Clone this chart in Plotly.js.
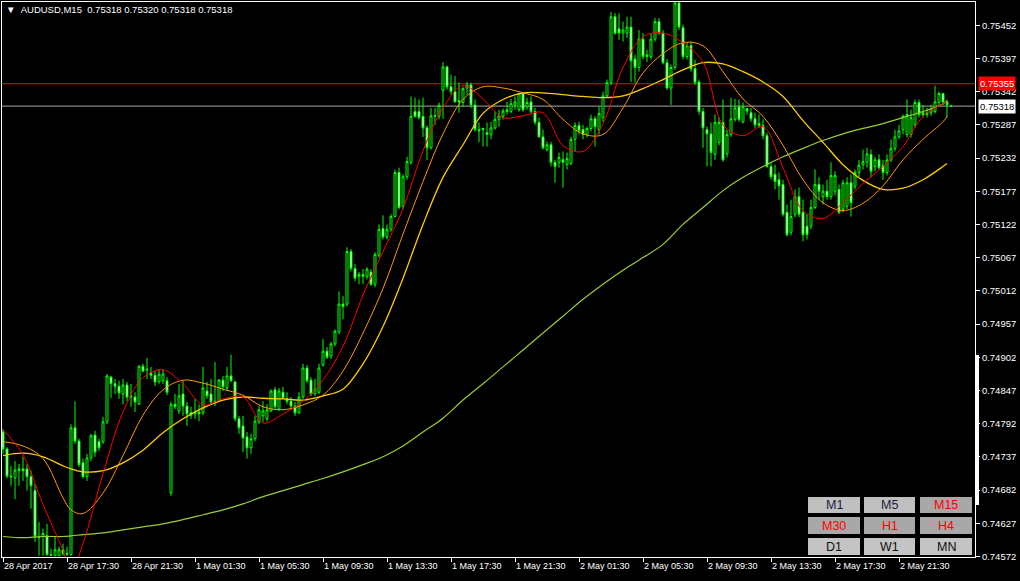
<!DOCTYPE html>
<html><head><meta charset="utf-8">
<script src="https://cdn.plot.ly/plotly-3.0.1.min.js"></script>
<style>html,body{margin:0;padding:0;background:#000;}#chart{width:1020px;height:581px;}</style>
</head><body><div id="chart"></div>
<script>
// ---- data (AUDUSD, M15, one bar per index; bar 0 = 28 Apr 2017 13:30) ----
const symbolName = 'AUDUSD,M15';
const open = [
0.74778,0.74750,0.74705,0.74702,0.74714,0.74717,0.74717,0.74704,0.74681,0.74605,
0.74605,0.74606,0.74575,0.74573,0.74573,0.74583,0.74577,0.74575,0.74785,0.74763,
0.74727,0.74704,0.74735,0.74773,0.74762,0.74762,0.74795,0.74869,0.74858,0.74854,
0.74841,0.74856,0.74836,0.74836,0.74824,0.74887,0.74881,0.74876,0.74872,0.74861,
0.74863,0.74863,0.74677,0.74824,0.74813,0.74841,0.74821,0.74810,0.74808,0.74811,
0.74810,0.74846,0.74841,0.74829,0.74829,0.74864,0.74851,0.74871,0.74861,0.74800,
0.74788,0.74770,0.74752,0.74767,0.74795,0.74805,0.74800,0.74813,0.74848,0.74816,
0.74844,0.74833,0.74829,0.74821,0.74810,0.74836,0.74884,0.74864,0.74841,0.74844,
0.74889,0.74912,0.74904,0.74924,0.74944,0.74990,0.74990,0.75077,0.75049,0.75036,
0.75039,0.75036,0.75043,0.75023,0.75071,0.75115,0.75101,0.75114,0.75135,0.75208,
0.75152,0.75201,0.75225,0.75309,0.75309,0.75301,0.75282,0.75249,0.75301,0.75301,
0.75344,0.75383,0.75350,0.75342,0.75327,0.75324,0.75348,0.75353,0.75320,0.75279,
0.75281,0.75274,0.75271,0.75282,0.75296,0.75301,0.75309,0.75309,0.75320,0.75312,
0.75339,0.75317,0.75325,0.75309,0.75291,0.75267,0.75246,0.75254,0.75225,0.75225,
0.75229,0.75221,0.75223,0.75263,0.75286,0.75279,0.75271,0.75281,0.75297,0.75279,
0.75299,0.75335,0.75357,0.75466,0.75446,0.75439,0.75439,0.75449,0.75396,0.75382,
0.75429,0.75400,0.75400,0.75429,0.75458,0.75439,0.75390,0.75348,0.75382,0.75489,
0.75448,0.75400,0.75418,0.75380,0.75358,0.75309,0.75279,0.75272,0.75238,0.75258,
0.75291,0.75239,0.75271,0.75296,0.75317,0.75292,0.75314,0.75307,0.75297,0.75289,
0.75286,0.75269,0.75218,0.75205,0.75196,0.75188,0.75142,0.75109,0.75139,0.75168,
0.75142,0.75119,0.75119,0.75150,0.75188,0.75168,0.75177,0.75168,0.75177,0.75180,
0.75147,0.75152,0.75191,0.75185,0.75208,0.75221,0.75225,0.75238,0.75218,0.75229,
0.75220,0.75208,0.75229,0.75248,0.75267,0.75279,0.75271,0.75271,0.75287,0.75324,
0.75307,0.75307,0.75307,0.75309,0.75324,0.75339,0.75325,0.75318];
const high = [
0.74783,0.74753,0.74722,0.74730,0.74725,0.74737,0.74725,0.74714,0.74692,0.74629,
0.74618,0.74626,0.74585,0.74605,0.74588,0.74593,0.74588,0.74791,0.74829,0.74767,
0.74734,0.74742,0.74775,0.74780,0.74767,0.74803,0.74874,0.74871,0.74866,0.74863,
0.74866,0.74861,0.74858,0.74844,0.74889,0.74891,0.74901,0.74886,0.74879,0.74882,
0.74882,0.74869,0.74828,0.74841,0.74858,0.74863,0.74828,0.74820,0.74833,0.74824,
0.74886,0.74861,0.74866,0.74894,0.74866,0.74871,0.74886,0.74906,0.74863,0.74805,
0.74805,0.74778,0.74775,0.74805,0.74821,0.74829,0.74824,0.74849,0.74853,0.74851,
0.74853,0.74844,0.74836,0.74828,0.74844,0.74891,0.74889,0.74869,0.74866,0.74891,
0.74932,0.74919,0.74927,0.74948,0.75011,0.75003,0.75084,0.75081,0.75056,0.75043,
0.75048,0.75051,0.75048,0.75076,0.75122,0.75137,0.75122,0.75139,0.75213,0.75216,
0.75205,0.75234,0.75334,0.75332,0.75329,0.75332,0.75286,0.75315,0.75315,0.75324,
0.75391,0.75385,0.75370,0.75368,0.75357,0.75350,0.75358,0.75357,0.75329,0.75291,
0.75282,0.75291,0.75292,0.75309,0.75312,0.75314,0.75325,0.75330,0.75334,0.75340,
0.75340,0.75332,0.75334,0.75315,0.75299,0.75279,0.75259,0.75259,0.75229,0.75241,
0.75243,0.75241,0.75267,0.75291,0.75292,0.75287,0.75284,0.75304,0.75301,0.75317,
0.75342,0.75362,0.75474,0.75472,0.75472,0.75458,0.75466,0.75466,0.75403,0.75444,
0.75439,0.75411,0.75439,0.75464,0.75464,0.75444,0.75396,0.75387,0.75491,0.75491,
0.75453,0.75423,0.75425,0.75395,0.75362,0.75315,0.75284,0.75291,0.75304,0.75299,
0.75329,0.75279,0.75332,0.75330,0.75329,0.75324,0.75315,0.75315,0.75307,0.75304,
0.75296,0.75274,0.75225,0.75221,0.75208,0.75196,0.75155,0.75163,0.75180,0.75183,
0.75163,0.75139,0.75163,0.75213,0.75200,0.75188,0.75196,0.75225,0.75210,0.75188,
0.75196,0.75200,0.75205,0.75213,0.75229,0.75246,0.75249,0.75246,0.75234,0.75238,
0.75229,0.75238,0.75263,0.75279,0.75287,0.75304,0.75329,0.75312,0.75329,0.75329,
0.75320,0.75315,0.75320,0.75352,0.75342,0.75340,0.75329,0.75320];
const low = [
0.74742,0.74701,0.74689,0.74667,0.74689,0.74697,0.74681,0.74651,0.74596,0.74573,
0.74573,0.74573,0.74573,0.74573,0.74573,0.74573,0.74573,0.74573,0.74758,0.74720,
0.74701,0.74697,0.74730,0.74737,0.74747,0.74758,0.74791,0.74834,0.74841,0.74833,
0.74824,0.74829,0.74820,0.74811,0.74823,0.74877,0.74866,0.74866,0.74854,0.74858,
0.74858,0.74839,0.74672,0.74816,0.74808,0.74805,0.74788,0.74800,0.74800,0.74796,
0.74806,0.74833,0.74824,0.74821,0.74828,0.74846,0.74846,0.74861,0.74796,0.74775,
0.74745,0.74734,0.74742,0.74763,0.74791,0.74795,0.74796,0.74811,0.74816,0.74813,
0.74833,0.74824,0.74816,0.74805,0.74808,0.74833,0.74859,0.74838,0.74838,0.74841,
0.74886,0.74899,0.74899,0.74920,0.74940,0.74965,0.74986,0.75044,0.75028,0.75023,
0.75023,0.75031,0.75020,0.75018,0.75067,0.75097,0.75097,0.75110,0.75134,0.75147,
0.75147,0.75196,0.75221,0.75299,0.75296,0.75267,0.75229,0.75246,0.75287,0.75296,
0.75297,0.75345,0.75337,0.75324,0.75307,0.75317,0.75337,0.75315,0.75276,0.75258,
0.75251,0.75251,0.75263,0.75279,0.75284,0.75296,0.75304,0.75306,0.75312,0.75309,
0.75309,0.75312,0.75304,0.75287,0.75266,0.75246,0.75243,0.75218,0.75191,0.75216,
0.75183,0.75213,0.75220,0.75243,0.75271,0.75263,0.75266,0.75276,0.75251,0.75271,
0.75292,0.75332,0.75353,0.75436,0.75428,0.75425,0.75431,0.75358,0.75357,0.75375,
0.75395,0.75391,0.75395,0.75425,0.75436,0.75387,0.75345,0.75320,0.75378,0.75444,
0.75395,0.75395,0.75375,0.75353,0.75304,0.75249,0.75218,0.75218,0.75229,0.75253,
0.75226,0.75233,0.75267,0.75292,0.75292,0.75289,0.75304,0.75292,0.75282,0.75282,
0.75263,0.75216,0.75196,0.75180,0.75163,0.75135,0.75102,0.75104,0.75134,0.75134,
0.75094,0.75097,0.75114,0.75147,0.75163,0.75155,0.75163,0.75163,0.75170,0.75139,
0.75142,0.75147,0.75135,0.75180,0.75201,0.75213,0.75216,0.75200,0.75210,0.75213,
0.75196,0.75203,0.75225,0.75243,0.75263,0.75271,0.75266,0.75266,0.75282,0.75299,
0.75299,0.75299,0.75302,0.75306,0.75319,0.75320,0.75299,0.75318];
const close = [
0.74750,0.74705,0.74704,0.74715,0.74717,0.74714,0.74704,0.74689,0.74605,0.74603,
0.74610,0.74575,0.74574,0.74583,0.74583,0.74577,0.74575,0.74785,0.74763,0.74724,
0.74704,0.74735,0.74772,0.74745,0.74752,0.74795,0.74871,0.74858,0.74854,0.74843,
0.74856,0.74836,0.74838,0.74828,0.74887,0.74879,0.74882,0.74872,0.74861,0.74874,
0.74874,0.74844,0.74824,0.74820,0.74838,0.74821,0.74808,0.74806,0.74811,0.74808,
0.74851,0.74838,0.74828,0.74828,0.74864,0.74853,0.74871,0.74863,0.74800,0.74785,
0.74768,0.74752,0.74767,0.74796,0.74815,0.74813,0.74815,0.74846,0.74820,0.74846,
0.74834,0.74829,0.74821,0.74810,0.74836,0.74884,0.74863,0.74841,0.74849,0.74884,
0.74912,0.74902,0.74924,0.74945,0.74990,0.74986,0.75077,0.75049,0.75033,0.75039,
0.75036,0.75048,0.75023,0.75072,0.75114,0.75101,0.75114,0.75135,0.75208,0.75150,
0.75201,0.75226,0.75301,0.75301,0.75299,0.75282,0.75249,0.75302,0.75302,0.75319,
0.75383,0.75350,0.75342,0.75325,0.75325,0.75347,0.75353,0.75320,0.75279,0.75277,
0.75279,0.75271,0.75282,0.75296,0.75302,0.75310,0.75312,0.75322,0.75325,0.75339,
0.75312,0.75324,0.75309,0.75291,0.75267,0.75249,0.75254,0.75225,0.75218,0.75233,
0.75225,0.75231,0.75263,0.75286,0.75277,0.75271,0.75281,0.75297,0.75284,0.75306,
0.75335,0.75357,0.75466,0.75439,0.75439,0.75444,0.75449,0.75393,0.75382,0.75429,
0.75400,0.75403,0.75429,0.75458,0.75439,0.75390,0.75348,0.75382,0.75489,0.75449,
0.75400,0.75418,0.75380,0.75357,0.75309,0.75282,0.75272,0.75241,0.75291,0.75291,
0.75229,0.75271,0.75297,0.75315,0.75296,0.75317,0.75310,0.75297,0.75287,0.75286,
0.75269,0.75218,0.75201,0.75193,0.75186,0.75139,0.75105,0.75135,0.75168,0.75139,
0.75105,0.75105,0.75150,0.75188,0.75177,0.75177,0.75168,0.75203,0.75203,0.75142,
0.75191,0.75191,0.75158,0.75208,0.75220,0.75226,0.75239,0.75210,0.75229,0.75216,
0.75208,0.75229,0.75248,0.75267,0.75277,0.75301,0.75304,0.75299,0.75324,0.75304,
0.75304,0.75304,0.75312,0.75325,0.75339,0.75325,0.75320,0.75318];

// moving averages, read at these bar indices
const maIdx = [0,5,10,15,17,20,25,30,35,40,45,50,55,60,65,70,75,80,85,90,95,100,105,110,115,120,
  125,130,135,140,145,150,155,160,165,170,175,180,185,190,195,200,205,210,215,220,225,230,235,236];
const maFast = [0.74782,0.74740,0.74658,0.74582,0.74547,0.74593,0.74709,0.74811,0.74868,0.74881,
  0.74858,0.74823,0.74833,0.74836,0.74793,0.74808,0.74829,0.74864,0.74920,0.75005,0.75077,0.75148,
  0.75244,0.75315,0.75352,0.75330,0.75299,0.75302,0.75307,0.75253,0.75243,0.75289,0.75382,0.75433,
  0.75439,0.75423,0.75391,0.75287,0.75269,0.75284,0.75216,0.75145,0.75132,0.75158,0.75190,0.75218,
  0.75251,0.75301,0.75322,0.75325];
const maMid = [0.74762,0.74755,0.74734,0.74669,0.74649,0.74643,0.74677,0.74739,0.74806,0.74848,
  0.74864,0.74859,0.74849,0.74839,0.74820,0.74815,0.74823,0.74839,0.74879,0.74942,0.75016,0.75106,
  0.75193,0.75272,0.75329,0.75350,0.75348,0.75340,0.75329,0.75296,0.75272,0.75271,0.75315,0.75373,
  0.75405,0.75423,0.75418,0.75375,0.75330,0.75301,0.75253,0.75196,0.75158,0.75145,0.75157,0.75186,
  0.75229,0.75263,0.75292,0.75301];
const maSlow = [0.74739,0.74743,0.74737,0.74722,0.74717,0.74712,0.74714,0.74727,0.74748,0.74777,
  0.74800,0.74818,0.74831,0.74836,0.74834,0.74833,0.74831,0.74838,0.74849,0.74891,0.74953,0.75033,
  0.75122,0.75200,0.75254,0.75306,0.75329,0.75340,0.75340,0.75337,0.75334,0.75332,0.75335,0.75347,
  0.75362,0.75378,0.75390,0.75388,0.75375,0.75358,0.75334,0.75294,0.75258,0.75221,0.75195,0.75180,
  0.75182,0.75196,0.75218,0.75223];
const maLong = [0.74605,0.74603,0.74605,0.74605,0.74606,0.74608,0.74611,0.74616,0.74621,0.74626,
  0.74633,0.74641,0.74649,0.74659,0.74671,0.74681,0.74691,0.74701,0.74712,0.74724,0.74737,0.74755,
  0.74778,0.74801,0.74831,0.74858,0.74886,0.74914,0.74942,0.74970,0.74998,0.75023,0.75046,0.75067,
  0.75089,0.75122,0.75150,0.75178,0.75200,0.75218,0.75234,0.75248,0.75261,0.75272,0.75281,0.75289,
  0.75299,0.75309,0.75322,0.75327];

const askPrice = 0.75355;
const bidPrice = 0.75318;
const labelBars = [0,16,32,48,64,80,96,112,128,144,160,176,192,208,224];
const timeLabels = ['28 Apr 2017','28 Apr 17:30','28 Apr 21:30','1 May 01:30','1 May 05:30',
  '1 May 09:30','1 May 13:30','1 May 17:30','1 May 21:30','2 May 01:30','2 May 05:30',
  '2 May 09:30','2 May 13:30','2 May 17:30','2 May 21:30'];
const priceTicks = [0.74572,0.74627,0.74682,0.74737,0.74792,0.74847,0.74902,0.74957,0.75012,
  0.75067,0.75122,0.75177,0.75232,0.75287,0.75342,0.75397,0.75452];
const periodButtons = ['M1','M5','M15','M30','H1','H4','D1','W1','MN'];

// ---- drawing ----
const FONT = 'Liberation Sans, Arial, sans-serif';
const bars = open.map((_, i) => i);
const last = open.length - 1;
const NB = '\u00a0';
const titleText = '\u25BC' + NB + NB + symbolName + NB + NB +
  [open[last], high[last], low[last], close[last]].map(v => v.toFixed(5)).join(' ');

const traces = [
  {type:'candlestick', x:bars, open:open, high:high, low:low, close:close,
   increasing:{line:{color:'#00ff00', width:1}, fillcolor:'#000000'},
   decreasing:{line:{color:'#00ff00', width:1}, fillcolor:'#ffffff'},
   whiskerwidth:0, hoverinfo:'skip', showlegend:false},
  {type:'scatter', mode:'lines', x:maIdx, y:maLong, line:{color:'#9acd32', width:1.2, shape:'spline'}, hoverinfo:'skip', showlegend:false},
  {type:'scatter', mode:'lines', x:maIdx, y:maSlow, line:{color:'#ffcc00', width:1.3, shape:'spline'}, hoverinfo:'skip', showlegend:false},
  {type:'scatter', mode:'lines', x:maIdx, y:maMid, line:{color:'#ff9900', width:1, shape:'spline'}, hoverinfo:'skip', showlegend:false},
  {type:'scatter', mode:'lines', x:maIdx, y:maFast, line:{color:'#ff0000', width:1, shape:'spline'}, hoverinfo:'skip', showlegend:false}
];

// pixel helpers for the fixed UI panel (plot area: x 2..975, y 2..557)
const PX = v => (v - 2) / 973;
const PY = v => (557 - v) / 555;

const shapes = [
  {type:'line', xref:'paper', x0:0, x1:1, yref:'y', y0:askPrice, y1:askPrice, line:{color:'#ff0000', width:1}, layer:'below'},
  {type:'line', xref:'paper', x0:0, x1:1, yref:'y', y0:bidPrice, y1:bidPrice, line:{color:'#a8a8a8', width:1}, layer:'below'},
  {type:'line', xref:'paper', x0:PX(977.5), x1:PX(977.5), yref:'paper', y0:PY(505), y1:PY(355), line:{color:'#ffffff', width:3}}
];
const annotations = [
  {xref:'paper', x:1, xshift:3, xanchor:'left', yref:'y', y:askPrice, yanchor:'middle',
   text:askPrice.toFixed(5), showarrow:false, bgcolor:'#ff0000', borderpad:1,
   font:{family:FONT, size:9.5, color:'#ffffff'}},
  {xref:'paper', x:1, xshift:3, xanchor:'left', yref:'y', y:bidPrice, yanchor:'middle',
   text:bidPrice.toFixed(5), showarrow:false, bgcolor:'#ffffff', borderpad:1,
   font:{family:FONT, size:9.5, color:'#000000'}}
];
const colX = [[808,860],[864,915],[920,972]];
const rowY = [[497,513],[517,534],[538,555]];
const boxFill = ['#c0c0c0','#c0c0c0','#a8a8a8','#a8a8a8','#a8a8a8','#a8a8a8','#c4c4c4','#c4c4c4','#c4c4c4'];
const txtCol = ['#1c1c40','#1c1c40','#ff0000','#ff0000','#ff0000','#ff0000','#101010','#101010','#101010'];
periodButtons.forEach((lab, k) => {
  const c = colX[k % 3], r = rowY[Math.floor(k / 3)];
  shapes.push({type:'rect', xref:'paper', yref:'paper', x0:PX(c[0]), x1:PX(c[1]), y0:PY(r[1]), y1:PY(r[0]),
    fillcolor:boxFill[k], line:{width:0}});
  annotations.push({xref:'paper', yref:'paper', x:PX((c[0]+c[1])/2), y:PY((r[0]+r[1])/2),
    xanchor:'center', yanchor:'middle', text:lab, showarrow:false,
    font:{family:FONT, size:12.5, color:txtCol[k]}});
});

const layout = {
  width:1020, height:581,
  margin:{l:2, r:45, t:2, b:24, pad:0},
  paper_bgcolor:'#000000', plot_bgcolor:'#000000',
  showlegend:false, hovermode:false,
  title:{text:titleText, x:6/1020, xanchor:'left', xref:'container', y:1 - 10/581, yref:'container', yanchor:'middle',
         font:{family:FONT, size:9.5, color:'#ffffff'}},
  xaxis:{range:[-0.25, 243], tickmode:'array', tickvals:labelBars, ticktext:timeLabels,
    ticks:'outside', ticklen:4, tickwidth:1, tickcolor:'#ffffff', ticklabelposition:'outside right',
    showline:true, linecolor:'#ffffff', linewidth:1, mirror:true, showgrid:false, zeroline:false,
    tickfont:{family:FONT, size:9, color:'#ffffff'}, rangeslider:{visible:false}, fixedrange:true},
  yaxis:{side:'right', range:[0.74571, 0.754905], tickmode:'array', tickvals:priceTicks,
    ticktext:priceTicks.map(v => v.toFixed(5)),
    ticks:'outside', ticklen:4, tickwidth:1, tickcolor:'#ffffff',
    showline:true, linecolor:'#ffffff', linewidth:1, mirror:true, showgrid:false, zeroline:false,
    tickfont:{family:FONT, size:9.5, color:'#ffffff'}, fixedrange:true},
  shapes:shapes, annotations:annotations
};
Plotly.newPlot('chart', traces, layout, {displayModeBar:false, staticPlot:true});
</script>
</body></html>
